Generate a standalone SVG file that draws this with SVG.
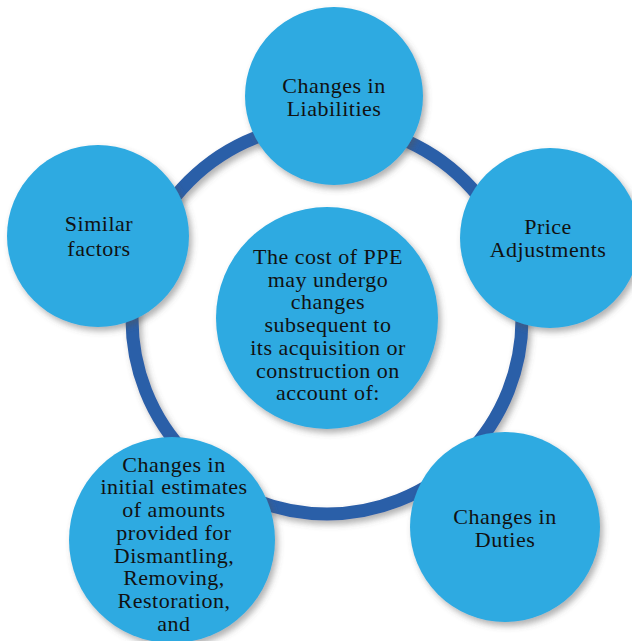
<svg xmlns="http://www.w3.org/2000/svg" width="632" height="641" viewBox="0 0 632 641">
<defs>
<filter id="sh" x="-20%" y="-20%" width="140%" height="140%">
<feDropShadow dx="3" dy="4" stdDeviation="3" flood-color="#555" flood-opacity="0.45"/>
</filter>
<style>
.n{fill:#2eaae1;filter:url(#sh)}
.t{font-family:"Liberation Serif","Times New Roman",serif;font-size:22px;letter-spacing:0.5px;fill:#111;text-anchor:middle}
</style>
</defs>
<rect width="632" height="641" fill="#fff"/>
<g id="connectors">
<circle cx="327" cy="319" r="195" fill="none" stroke="#2b5ea8" stroke-width="13" filter="url(#sh)"/>
</g>
<g id="center">
<circle class="n" cx="327" cy="318" r="111"/>
<text class="t"><tspan x="328" y="264">The cost of PPE</tspan><tspan x="328" y="286.7">may undergo</tspan><tspan x="328" y="309.4">changes</tspan><tspan x="328" y="332">subsequent to</tspan><tspan x="328" y="354.8">its acquisition or</tspan><tspan x="328" y="377.5">construction on</tspan><tspan x="328" y="400.2">account of:</tspan></text>
</g>
<g id="liabilities">
<circle class="n" cx="334" cy="96" r="89"/>
<text class="t"><tspan x="334" y="93">Changes in</tspan><tspan x="334" y="115.7">Liabilities</tspan></text>
</g>
<g id="price">
<circle class="n" cx="550" cy="238" r="90"/>
<text class="t"><tspan x="548" y="234">Price</tspan><tspan x="548" y="257">Adjustments</tspan></text>
</g>
<g id="duties">
<circle class="n" cx="505" cy="527" r="95"/>
<text class="t"><tspan x="505" y="524">Changes in</tspan><tspan x="505" y="546.7">Duties</tspan></text>
</g>
<g id="estimates">
<circle class="n" cx="172" cy="540" r="103"/>
<text class="t"><tspan x="174" y="471.7">Changes in</tspan><tspan x="174" y="494.4">initial estimates</tspan><tspan x="174" y="517.1">of amounts</tspan><tspan x="174" y="539.8">provided for</tspan><tspan x="174" y="562.5">Dismantling,</tspan><tspan x="174" y="585.2">Removing,</tspan><tspan x="174" y="607.9">Restoration,</tspan><tspan x="174" y="630.6">and</tspan></text>
</g>
<g id="similar">
<circle class="n" cx="98" cy="236" r="91"/>
<text class="t"><tspan x="99" y="231">Similar</tspan><tspan x="99" y="256">factors</tspan></text>
</g>
</svg>
